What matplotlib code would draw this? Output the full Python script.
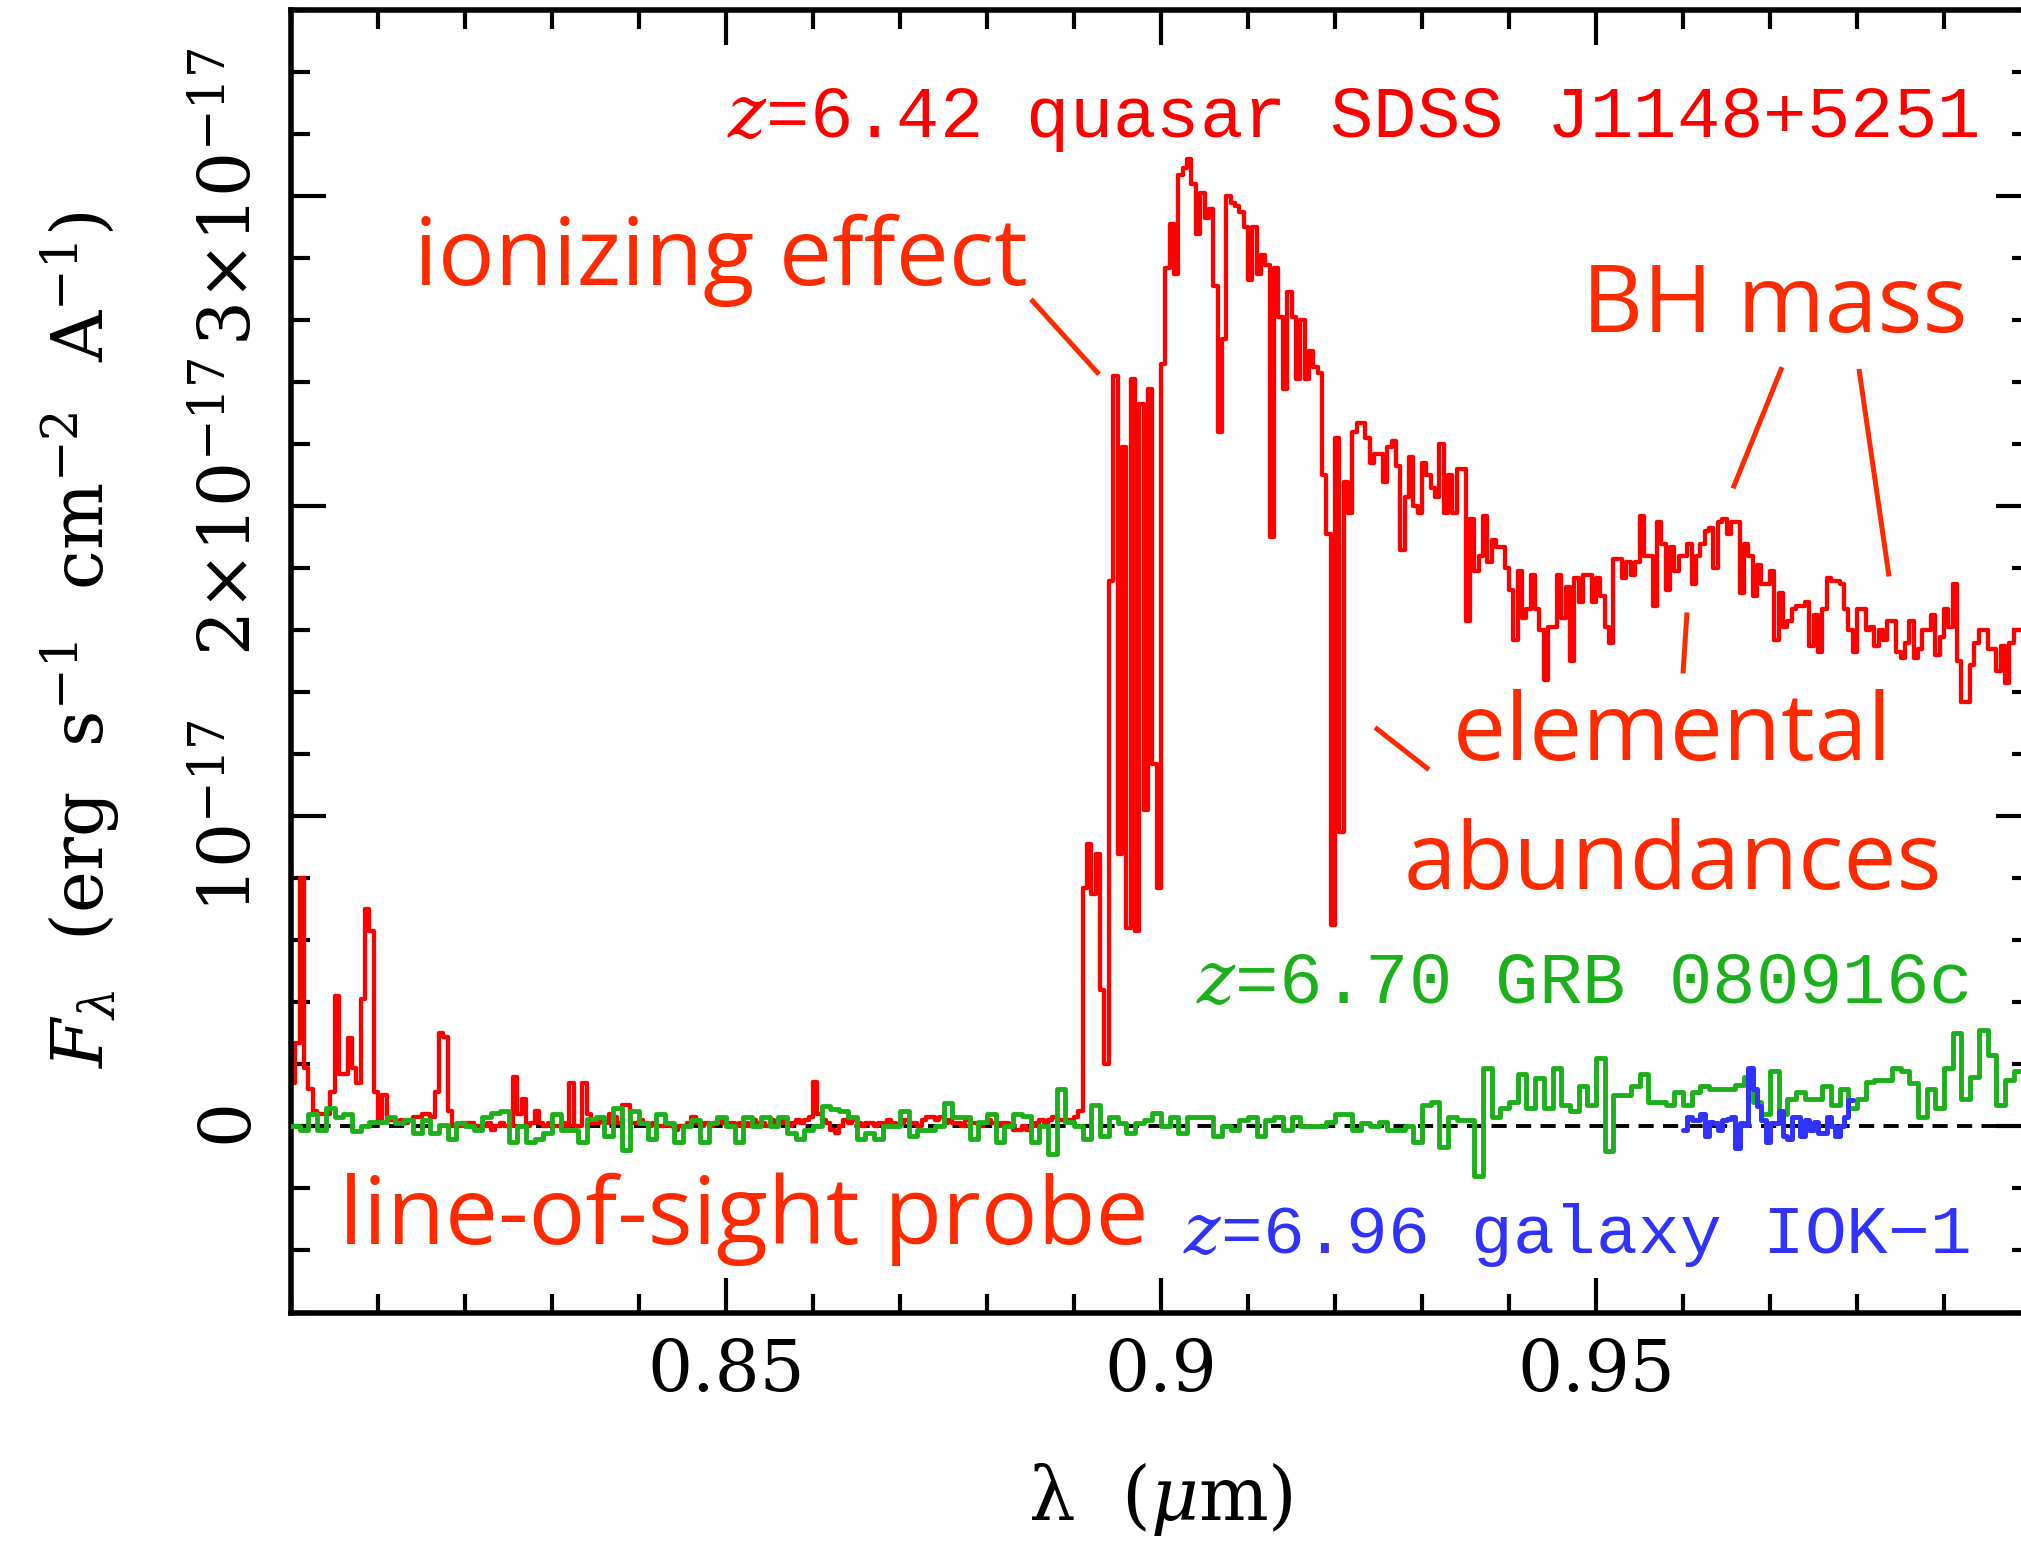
import matplotlib
matplotlib.use("Agg")
import matplotlib.pyplot as plt
import numpy as np
from matplotlib.ticker import FixedLocator, MultipleLocator

plt.rcParams["font.family"] = ["DejaVu Serif"]
plt.rcParams["mathtext.fontset"] = "dejavuserif"

# fluxes in units of 1e-17 erg s^-1 cm^-2 A^-1, wavelengths in micron
qso_start, qso_step = 0.800, 0.0005
qso_flux = [
    0.14, 0.27, 0.80, 0.19, 0.12, 0.05, 0.04, 0.04, 0.04, 0.11,
    0.42, 0.17, 0.17, 0.285, 0.19, 0.14, 0.41, 0.70, 0.63, 0.11,
    0.01, 0.10, 0.02, 0.02, 0.01, 0.02, 0.01, 0.02, 0.03, 0.03,
    0.04, 0.04, 0.03, 0.11, 0.30, 0.29, 0.05, 0.00, 0.00, 0.01,
    0.01, 0.01, 0.00, 0.00, 0.00, 0.01, -0.01, 0.00, 0.01, 0.00,
    0.00, 0.16, 0.04, 0.09, 0.00, 0.01, 0.05, 0.01, 0.00, 0.01,
    0.00, 0.00, 0.01, 0.00, 0.14, 0.00, 0.00, 0.14, 0.04, 0.01,
    0.01, 0.02, 0.01, 0.04, 0.03, 0.01, 0.07, 0.07, 0.01, 0.01,
    0.02, 0.01, 0.00, 0.01, 0.00, 0.00, 0.01, 0.00, -0.01, 0.00,
    0.00, 0.01, 0.03, 0.01, 0.00, 0.01, 0.00, 0.01, 0.02, 0.01,
    0.00, 0.01, 0.00, 0.01, 0.01, 0.00, 0.02, 0.01, 0.01, 0.00,
    0.02, 0.01, 0.01, 0.02, 0.00, 0.01, 0.02, 0.01, 0.02, 0.03,
    0.145, 0.04, 0.02, 0.01, -0.01, -0.02, 0.00, 0.02, 0.01, 0.02,
    0.01, 0.00, 0.01, 0.01, 0.00, 0.01, 0.01, 0.02, 0.01, 0.00,
    0.01, 0.02, 0.01, 0.01, 0.00, 0.02, 0.03, 0.03, 0.02, 0.03,
    0.01, 0.02, 0.01, 0.01, 0.00, 0.02, 0.01, 0.01, 0.00, 0.01,
    0.02, 0.01, 0.00, 0.01, 0.01, 0.00, -0.01, -0.01, 0.00, -0.01,
    0.00, 0.01, 0.02, 0.01, 0.02, 0.03, 0.02, 0.02, 0.02, 0.02,
    0.03, 0.05, 0.77, 0.91, 0.75, 0.88, 0.44, 0.20, 1.76, 2.42,
    0.88, 2.19, 0.64, 2.41, 0.63, 2.33, 1.02, 2.38, 1.17, 0.77,
    2.46, 2.77, 2.91, 2.75, 3.07, 3.09, 3.12, 3.04, 2.88, 3.01,
    2.93, 2.96, 2.71, 2.24, 2.54, 3.00, 2.98, 2.97, 2.95, 2.90,
    2.73, 2.90, 2.75, 2.81, 2.78, 1.90, 2.77, 2.61, 2.38, 2.69,
    2.61, 2.41, 2.60, 2.41, 2.50, 2.45, 2.43, 2.10, 1.91, 0.65,
    2.22, 0.95, 2.08, 1.98, 2.24, 2.27, 2.27, 2.22, 2.14, 2.17,
    2.17, 2.08, 2.19, 2.21, 2.13, 1.86, 2.03, 2.16, 2.00, 1.98,
    2.14, 2.10, 2.06, 2.03, 2.20, 1.98, 2.10, 1.98, 2.12, 2.12,
    1.63, 1.96, 1.79, 1.84, 1.97, 1.82, 1.89, 1.87, 1.87, 1.80,
    1.73, 1.57, 1.79, 1.64, 1.67, 1.78, 1.67, 1.60, 1.44, 1.61,
    1.61, 1.78, 1.64, 1.74, 1.50, 1.77, 1.69, 1.78, 1.78, 1.69,
    1.77, 1.71, 1.61, 1.56, 1.83, 1.83, 1.77, 1.82, 1.78, 1.82,
    1.97, 1.84, 1.84, 1.68, 1.95, 1.88, 1.73, 1.87, 1.79, 1.84,
    1.84, 1.88, 1.75, 1.84, 1.88, 1.92, 1.93, 1.80, 1.95, 1.96,
    1.91, 1.95, 1.95, 1.72, 1.88, 1.84, 1.71, 1.81, 1.75, 1.75,
    1.79, 1.57, 1.72, 1.61, 1.63, 1.67, 1.68, 1.68, 1.69, 1.55,
    1.65, 1.53, 1.67, 1.77, 1.76, 1.76, 1.75, 1.67, 1.60, 1.53,
    1.67, 1.67, 1.60, 1.61, 1.55, 1.60, 1.57, 1.63, 1.63, 1.53,
    1.51, 1.56, 1.63, 1.51, 1.54, 1.60, 1.60, 1.65, 1.52, 1.58,
    1.67, 1.61, 1.75, 1.50, 1.37, 1.37, 1.49, 1.56, 1.60, 1.60,
    1.54, 1.54, 1.47, 1.55, 1.43, 1.56, 1.60, 1.60, 1.60, 1.58,
]

grb_start, grb_step = 0.800, 0.001
grb_flux = [
    0.00, -0.01, 0.04, -0.01, 0.06, 0.03, 0.04, -0.015, 0.00, 0.015,
    0.015, 0.03, 0.01, 0.02, -0.02, 0.02, -0.02, 0.005, -0.04, 0.01,
    0.00, -0.01, 0.03, 0.045, 0.05, -0.05, 0.00, -0.05, -0.04, -0.02,
    0.04, -0.01, -0.01, -0.05, 0.025, 0.03, -0.03, 0.06, -0.075, 0.05,
    0.01, -0.04, 0.04, 0.01, -0.05, 0.00, 0.02, -0.05, 0.01, 0.03,
    0.00, -0.05, 0.03, 0.00, 0.03, 0.00, 0.03, -0.02, -0.04, -0.01,
    0.00, 0.065, 0.055, 0.05, 0.03, -0.04, -0.02, -0.04, 0.00, 0.00,
    0.05, -0.03, -0.01, -0.01, 0.00, 0.075, 0.03, 0.03, -0.04, 0.015,
    0.04, -0.05, 0.00, 0.04, 0.035, -0.05, 0.00, -0.09, 0.12, 0.015,
    0.00, -0.04, 0.07, -0.03, 0.03, 0.01, -0.02, 0.01, 0.02, 0.043,
    0.00, 0.03, -0.02, 0.03, 0.03, 0.03, -0.03, 0.00, -0.01, 0.02,
    0.03, -0.03, 0.02, 0.03, -0.01, 0.03, 0.00, 0.00, 0.00, 0.015,
    0.04, 0.04, -0.01, 0.01, 0.00, 0.015, -0.01, -0.01, 0.00, -0.05,
    0.07, 0.08, -0.065, 0.03, 0.02, 0.02, -0.16, 0.19, 0.03, 0.06,
    0.08, 0.17, 0.06, 0.155, 0.06, 0.19, 0.07, 0.05, 0.13, 0.07,
    0.22, -0.08, 0.10, 0.10, 0.13, 0.17, 0.08, 0.08, 0.07, 0.11,
    0.07, 0.11, 0.13, 0.12, 0.12, 0.12, 0.135, 0.16, 0.08, 0.04,
    0.18, 0.04, 0.09, 0.11, 0.09, 0.09, 0.13, 0.07, 0.12, 0.06,
    0.09, 0.145, 0.15, 0.15, 0.19, 0.18, 0.14, 0.03, 0.12, 0.06,
    0.19, 0.30, 0.09, 0.16, 0.31, 0.23, 0.07, 0.15, 0.18, 0.18,
]

iok_start, iok_step = 0.960, 0.0005
iok_flux = [
    -0.01, 0.03, 0.02, 0.02, 0.04, -0.03, 0.015, 0.01, -0.01, 0.02,
    0.025, 0.03, -0.07, 0.01, 0.005, 0.19, 0.12, 0.065, 0.02, -0.05,
    0.01, 0.01, 0.05, -0.03, -0.04, 0.03, 0.03, -0.03, 0.02, -0.01,
    0.015, -0.02, -0.02, 0.03, 0.00, -0.03, 0.00, 0.03, 0.085,
]

x_ticks = [0.85, 0.9, 0.95]
x_ticklabels = ["0.85", "0.9", "0.95"]
y_ticks = [0, 1, 2, 3]
y_ticklabels = [r"$0$", r"$10^{-17}$", r"$2{\times}10^{-17}$", r"$3{\times}10^{-17}$"]

RED = "#ff0000"
GREEN = "#1cb01c"
BLUE = "#3232ff"
NOTE = "#ff2a00"


def draw_spectrum(ax, start, step, flux, **kw):
    edges = start + step * np.arange(len(flux) + 1)
    vals = np.append(flux, flux[-1])
    ax.step(edges, vals, where="post", solid_joinstyle="round",
            solid_capstyle="round", **kw)


fig = plt.figure(figsize=(20.21, 15.45), dpi=100)
ax = fig.add_axes([291 / 2021, 232.5 / 1545, 1740 / 2021, 1302.2 / 1545])
ax.set_xlim(0.8, 1.0)
ax.set_ylim(-0.6, 3.6)

ax.axhline(0, color="black", lw=2.8, dashes=(3.9, 2.4), zorder=1)
draw_spectrum(ax, qso_start, qso_step, qso_flux, color=RED, lw=3.1, zorder=2)
draw_spectrum(ax, grb_start, grb_step, grb_flux, color=GREEN, lw=3.5, zorder=3)
draw_spectrum(ax, iok_start, iok_step, iok_flux, color=BLUE, lw=3.6, zorder=4)

# object labels
mono = ["Liberation Mono", "DejaVu Sans Mono"]
ax.text(0.9939, 3.19, r"$z$=6.42 quasar SDSS J1148+5251", color=RED,
        family=mono, fontsize=52, ha="right", va="baseline")
ax.text(0.9928, 0.399, r"$z$=6.70 GRB 080916c", color=GREEN,
        family=mono, fontsize=52, ha="right", va="baseline")
ax.text(0.9929, -0.408, r"$z$=6.96 galaxy IOK−1", color=BLUE,
        family=mono, fontsize=50, ha="right", va="baseline")

# science annotations
sans = ["Open Sans", "DejaVu Sans"]
notes = [
    ("ionizing effect", 0.84943, 2.714),
    ("BH mass", 0.97057, 2.562),
    ("elemental", 0.95874, 1.183),
    ("abundances", 0.95885, 0.767),
    ("line-of-sight probe", 0.85200, -0.379),
]
for txt, x, y in notes:
    ax.text(x, y, txt, color=NOTE, family=sans, fontsize=68,
            ha="center", va="baseline")

pointers = [
    ((0.88506, 0.89287), (2.668, 2.426)),
    ((0.97138, 0.96575), (2.449, 2.058)),
    ((0.98023, 0.98368), (2.443, 1.774)),
    ((0.96046, 0.96000), (1.658, 1.461)),
    ((0.92460, 0.93080), (1.287, 1.151)),
]
for xs, ys in pointers:
    ax.plot(xs, ys, color=NOTE, lw=3.6, solid_capstyle="butt", zorder=5)

# axes, ticks
for sp in ax.spines.values():
    sp.set_linewidth(4)
ax.xaxis.set_major_locator(FixedLocator(x_ticks))
ax.xaxis.set_minor_locator(MultipleLocator(0.01))
ax.set_xticklabels(x_ticklabels)
ax.yaxis.set_major_locator(FixedLocator(y_ticks))
ax.yaxis.set_minor_locator(MultipleLocator(0.2))
ax.set_yticklabels(y_ticklabels)
ax.tick_params(which="both", direction="in", top=True, right=True,
               width=3, labelsize=51)
ax.tick_params(which="major", length=25)
ax.tick_params(which="minor", length=14)
ax.tick_params(axis="x", pad=18)
ax.tick_params(axis="y", pad=18)
for lab in ax.get_yticklabels():
    lab.set_rotation(90)
    lab.set_va("center")

fig.text(1160 / 2021, 1 - 1500 / 1545, r"λ  ($\mu$m)", fontsize=53,
         ha="center", va="center")
fig.text(81 / 2021, 1 - 640 / 1545,
         r"$F_{\lambda}$  (erg  s$^{-1}$  cm$^{-2}$  A$^{-1}$)",
         fontsize=51, rotation=90, ha="center", va="center")

fig.savefig("out.png", dpi=100)
